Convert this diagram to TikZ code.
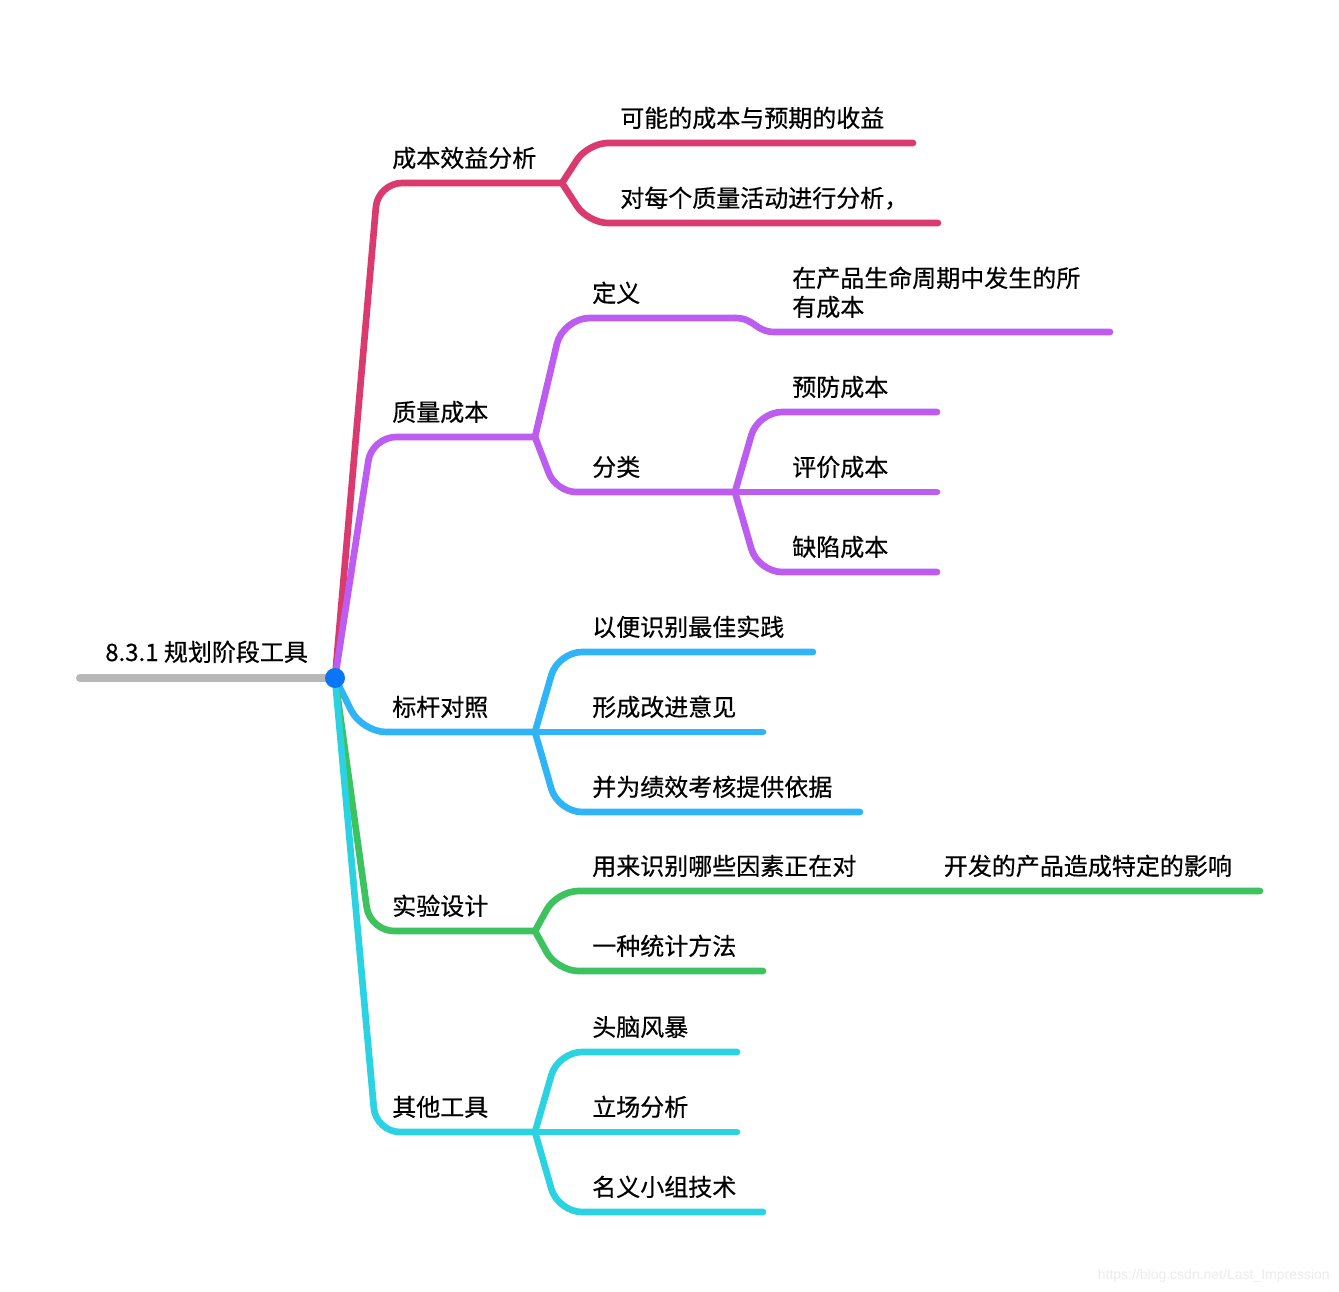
\documentclass[tikz,border=0pt]{standalone}
\usepackage{fontspec}
\setmainfont{Noto Sans CJK SC}[FakeBold=0.5]
\newfontfamily\wmfont{Liberation Sans}
\usepackage{tikz}
\definecolor{rootgray}{HTML}{B8B8B8}
\definecolor{rootblue}{HTML}{0A75F5}
\definecolor{mapred}{HTML}{DA3A6E}
\definecolor{mappurple}{HTML}{BC5CF0}
\definecolor{mapblue}{HTML}{30B4F8}
\definecolor{mapgreen}{HTML}{3CC25E}
\definecolor{mapcyan}{HTML}{2AD2E2}

\begin{document}
\begin{tikzpicture}[x=0.75pt,y=-0.75pt,
		br/.style={line width=5pt,line cap=round,line join=round},
		t/.style={anchor=base west,inner sep=0pt,font=\fontsize{18}{21.75}\selectfont}
		]
		\useasboundingbox (0,0) rectangle (1339,1292);
		% root
		\coordinate (root) at (335,678);
		\coordinate (rootL) at (80,678);
		\node[t] (rootT) at (105,661) {8.3.1 规划阶段工具};
		\draw[br,rootgray,line width=6pt] (rootL) -- (root);

		% 成本效益分析
		\coordinate (cb) at (562,183);
		\coordinate (cb1) at (913,143);
		\coordinate (cb2) at (938,223);
		\node[t] (cbT) at (392,167) {成本效益分析};
		\node[t] (cb1T) at (620,127) {可能的成本与预期的收益};
		\node[t] (cb2T) at (620,207) {对每个质量活动进行分析，};
		\draw[br,mapred,rounded corners=18pt] (root) -- (378,183) -- (cb);
		\draw[br,mapred,rounded corners=15pt] (cb) -- (588,143) -- (cb1);
		\draw[br,mapred,rounded corners=15pt] (cb) -- (588,223) -- (cb2);

		% 质量成本
		\coordinate (zl) at (535,437);
		\coordinate (dy) at (735,318);
		\coordinate (dy1) at (1110,332);
		\coordinate (fl) at (735,492);
		\coordinate (fl1) at (937,412);
		\coordinate (fl2) at (937,492);
		\coordinate (fl3) at (937,572);
		\node[t] (zlT) at (392,421) {质量成本};
		\node[t] (dyT) at (592,302) {定义};
		\node[t,align=left] (dy1T) at (792,316) {在产品生命周期中发生的所\\有成本};
		\node[t] (flT) at (592,476) {分类};
		\node[t] (fl1T) at (792,396) {预防成本};
		\node[t] (fl2T) at (792,476) {评价成本};
		\node[t] (fl3T) at (792,556) {缺陷成本};
		\draw[br,mappurple,rounded corners=18pt] (root) -- (372,437) -- (zl);
		\draw[br,mappurple,rounded corners=20pt] (zl) -- (563,318) -- (dy);
		\draw[br,mappurple] (dy) .. controls (755,318) and (755,332) .. (775,332) -- (dy1);
		\draw[br,mappurple,rounded corners=15pt] (zl) -- (556,492) -- (fl);
		\draw[br,mappurple,rounded corners=18pt] (fl) -- (758,412) -- (fl1);
		\draw[br,mappurple] (fl) -- (fl2);
		\draw[br,mappurple,rounded corners=18pt] (fl) -- (758,572) -- (fl3);

		% 标杆对照
		\coordinate (bg) at (535,732);
		\coordinate (bg1) at (813,652);
		\coordinate (bg2) at (763,732);
		\coordinate (bg3) at (860,812);
		\node[t] (bgT) at (392,716) {标杆对照};
		\node[t] (bg1T) at (592,636) {以便识别最佳实践};
		\node[t] (bg2T) at (592,716) {形成改进意见};
		\node[t] (bg3T) at (592,796) {并为绩效考核提供依据};
		\draw[br,mapblue,rounded corners=18pt] (root) -- (362,732) -- (bg);
		\draw[br,mapblue,rounded corners=18pt] (bg) -- (558,652) -- (bg1);
		\draw[br,mapblue] (bg) -- (bg2);
		\draw[br,mapblue,rounded corners=18pt] (bg) -- (558,812) -- (bg3);

		% 实验设计
		\coordinate (sy) at (535,931);
		\coordinate (sy1) at (1260,891);
		\coordinate (sy2) at (763,971);
		\node[t] (syT) at (392,915) {实验设计};
		\node[t] (sy1T) at (592,875) {用来识别哪些因素正在对\hspace{3.65em}开发的产品造成特定的影响};
		\node[t] (sy2T) at (592,955) {一种统计方法};
		\draw[br,mapgreen,rounded corners=18pt] (root) -- (370,931) -- (sy);
		\draw[br,mapgreen,rounded corners=16pt] (sy) -- (557,891) -- (sy1);
		\draw[br,mapgreen,rounded corners=16pt] (sy) -- (557,971) -- (sy2);

		% 其他工具
		\coordinate (qt) at (535,1132);
		\coordinate (qt1) at (737,1052);
		\coordinate (qt2) at (737,1132);
		\coordinate (qt3) at (763,1212);
		\node[t] (qtT) at (392,1116) {其他工具};
		\node[t] (qt1T) at (592,1036) {头脑风暴};
		\node[t] (qt2T) at (592,1116) {立场分析};
		\node[t] (qt3T) at (592,1196) {名义小组技术};
		\draw[br,mapcyan,rounded corners=18pt] (root) -- (376,1132) -- (qt);
		\draw[br,mapcyan,rounded corners=18pt] (qt) -- (558,1052) -- (qt1);
		\draw[br,mapcyan] (qt) -- (qt2);
		\draw[br,mapcyan,rounded corners=18pt] (qt) -- (558,1212) -- (qt3);

		\node[circle,fill=rootblue,minimum size=15pt,inner sep=0pt] (dot) at (root) {};
		\node[anchor=base east,inner sep=0pt,text=black!8,font=\wmfont\fontsize{10.5}{12}\selectfont] (wm) at (1330,1279) {https://blog.csdn.net/Last\_Impression};
	\end{tikzpicture}
\end{document}
